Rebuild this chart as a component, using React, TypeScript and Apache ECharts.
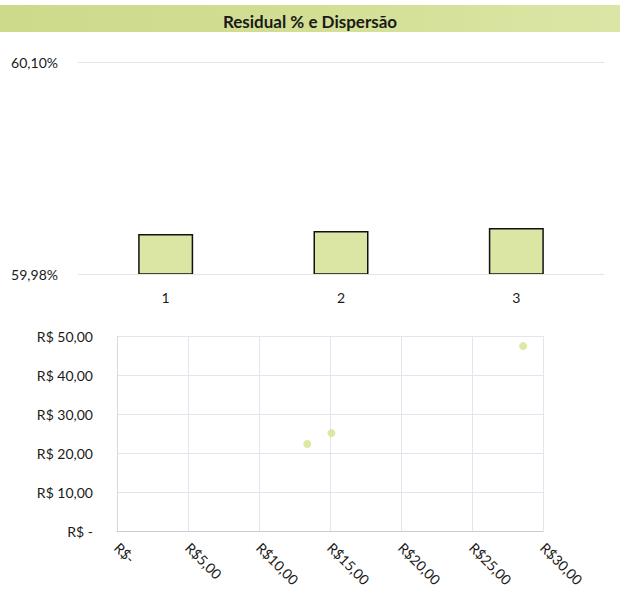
import React, { useEffect, useRef } from "react";
import * as echarts from "echarts";

const barCategories = ["1", "2", "3"];
const barValues = [60.0026, 60.0043, 60.006];
const barAxisMin = 59.98;
const barAxisMax = 60.1;

const scatterPoints: [number, number][] = [
  [13.4, 22.3],
  [15.1, 25.1],
  [28.6, 47.4],
];
const scatterXMax = 30;
const scatterYMax = 50;

const FONT = "Lato, 'Open Sans', sans-serif";

const fmtPct = (v: number) => v.toFixed(2).replace(".", ",") + "%";
const near = (a: number, b: number) => Math.abs(a - b) < 1e-6;

export default function App() {
  const ref = useRef<HTMLDivElement>(null);
  useEffect(() => {
    if (!ref.current) return;
    const chart = echarts.init(ref.current, null, { renderer: "svg" });
    chart.setOption({
      animation: false,
      backgroundColor: "#ffffff",
      textStyle: { fontFamily: FONT },
      title: {
        text: "Residual % e Dispersão",
        left: "center",
        top: 8,
        textStyle: { fontFamily: FONT, fontSize: 17, fontWeight: "bold", color: "#1a1a1a" },
      },
      graphic: [
        {
          type: "rect",
          z: -1,
          shape: { x: 0, y: 5, width: 620, height: 27 },
          style: {
            fill: new echarts.graphic.LinearGradient(0, 0, 1, 0, [
              { offset: 0, color: "#cdda8c" },
              { offset: 0.5, color: "#d2df93" },
              { offset: 1, color: "#dbe6a6" },
            ]),
          },
        },
      ],
      grid: [
        { left: 78, right: 16, top: 62, height: 212 },
        { left: 117, right: 77, top: 336, bottom: 59 },
      ],
      xAxis: [
        {
          type: "category",
          gridIndex: 0,
          data: barCategories,
          axisLine: { show: false },
          axisTick: { show: false },
          axisLabel: { fontFamily: FONT, fontSize: 14, color: "#1a1a1a", margin: 16 },
        },
        {
          type: "value",
          gridIndex: 1,
          min: 0,
          max: scatterXMax,
          interval: 5,
          axisLine: { show: true, lineStyle: { color: "#c8ccd6" } },
          axisTick: { show: false },
          splitLine: { show: true, lineStyle: { color: "#e2e5ee" } },
          axisLabel: {
            rotate: -45,
            fontFamily: FONT,
            fontSize: 14,
            color: "#1a1a1a",
            margin: 14,
            formatter: (v: number) => (v === 0 ? "R$-" : "R$" + v.toFixed(2).replace(".", ",")),
          },
        },
      ],
      yAxis: [
        {
          type: "value",
          gridIndex: 0,
          min: barAxisMin,
          max: barAxisMax,
          interval: 0.02,
          axisLine: { show: false },
          axisTick: { show: false },
          splitLine: { show: false },
          axisLabel: {
            fontFamily: FONT,
            fontSize: 14,
            color: "#1a1a1a",
            margin: 20,
            showMinLabel: true,
            showMaxLabel: true,
            formatter: (v: number) =>
              near(v, barAxisMin) || near(v, barAxisMax) ? fmtPct(v) : "",
          },
        },
        {
          type: "value",
          gridIndex: 1,
          min: 0,
          max: scatterYMax,
          interval: 10,
          axisLine: { show: true, lineStyle: { color: "#d6d9e2" } },
          axisTick: { show: false },
          splitLine: { show: true, lineStyle: { color: "#e2e5ee" } },
          axisLabel: {
            fontFamily: FONT,
            fontSize: 14,
            color: "#1a1a1a",
            margin: 24,
            formatter: (v: number) => (v === 0 ? "R$ -" : "R$ " + v.toFixed(2).replace(".", ",")),
          },
        },
      ],
      series: [
        {
          type: "bar",
          xAxisIndex: 0,
          yAxisIndex: 0,
          data: barValues,
          barWidth: 55,
          itemStyle: { color: "#dce6a4", borderColor: "#111", borderWidth: 1.5 },
          markLine: {
            silent: true,
            symbol: "none",
            label: { show: false },
            lineStyle: { color: "#e4e4e4", type: "solid", width: 1 },
            data: [{ yAxis: barAxisMin }, { yAxis: barAxisMax }],
          },
        },
        {
          type: "scatter",
          xAxisIndex: 1,
          yAxisIndex: 1,
          data: scatterPoints,
          symbolSize: 8,
          itemStyle: { color: "#d6e28c" },
        },
      ],
    });
    return () => chart.dispose();
  }, []);
  return (
    <div
      ref={ref}
      style={{ position: "fixed", left: 0, top: 0, width: 620, height: 590 }}
    />
  );
}
